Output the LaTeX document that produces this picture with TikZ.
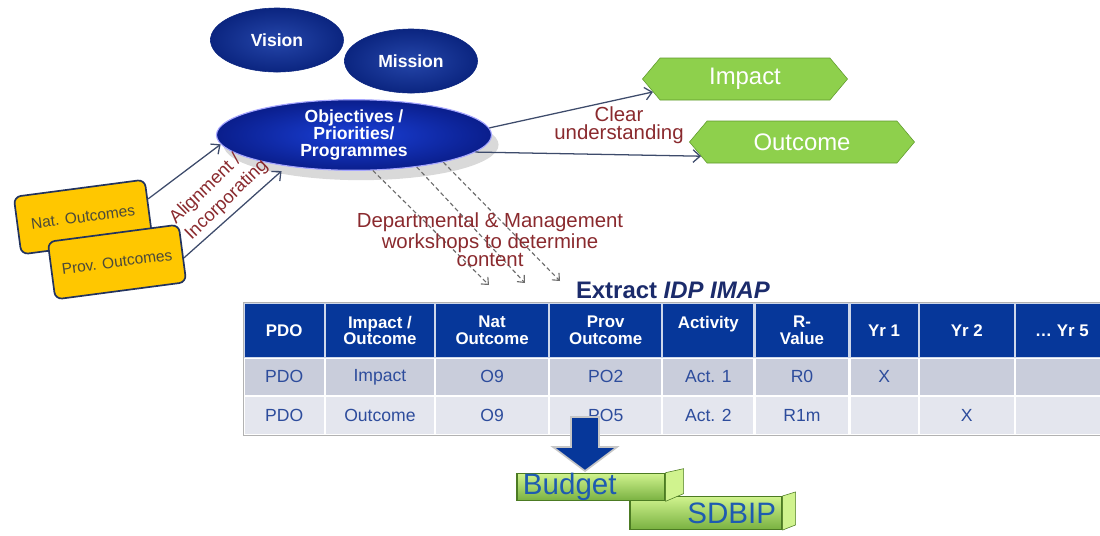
\documentclass[tikz,border=0pt]{standalone}
\usepackage{fontspec}
\setmainfont{Liberation Sans}
\usetikzlibrary{shapes.geometric,shapes.symbols,shadows,arrows.meta}
\definecolor{navy}{HTML}{0B2580}
\definecolor{navylt}{HTML}{2546AA}
\definecolor{objblue}{HTML}{1A40D8}
\definecolor{objdark}{HTML}{0A1E8C}
\definecolor{hdrblue}{HTML}{06379A}
\definecolor{rowa}{HTML}{C9CDDB}
\definecolor{rowb}{HTML}{E4E6EE}
\definecolor{celltxt}{HTML}{2D4C9C}
\definecolor{leaf}{HTML}{8ED04C}
\definecolor{leafdk}{HTML}{5F9A2C}
\definecolor{leafhi}{HTML}{D0F38E}
\definecolor{gold}{HTML}{FFC700}
\definecolor{boxline}{HTML}{22335E}
\definecolor{boxtxt}{HTML}{4B4A3A}
\definecolor{wine}{HTML}{8A2A2E}
\definecolor{slate}{HTML}{3D4B6B}
\definecolor{budgtxt}{HTML}{1E5BB0}
\definecolor{titleblue}{HTML}{1B2B6B}
\begin{document}
\begin{tikzpicture}[x=0.025cm, y=-0.025cm,
    oval/.style={ellipse, inner sep=0, minimum width=3.325cm, minimum height=1.6cm,
        inner color=navylt, outer color=navy, draw=navy, text=white,
        font=\fontsize{12.5}{13}\selectfont\bfseries},
    objoval/.style={ellipse, inner sep=0, minimum width=6.875cm, minimum height=1.6cm,
        inner color=objblue, outer color=objdark, draw=blue!35!white, line width=0.8pt,
        text=white, align=center, font=\fontsize{12.5}{11.9}\selectfont\bfseries},
    goal/.style={signal, signal to=west and east, signal pointer angle=100,
        draw=leafdk, fill=leaf, text=white, inner sep=0, minimum height=1.05cm,
        font=\fontsize{17}{17}\selectfont},
    outbox/.style={rectangle, rounded corners=5pt, draw=boxline, line width=1.2pt,
        fill=gold, text=boxtxt, minimum width=3.3cm, minimum height=1.45cm,
        rotate=7.5, font=\fontsize{11}{12}\selectfont},
    note/.style={text=wine, align=center, font=\fontsize{14.5}{13}\selectfont},
    link/.style={draw=slate, line width=0.9pt, -{Straight Barb[length=5pt,width=9pt]}},
    trace/.style={draw=gray!85!black, line width=0.8pt, dash pattern=on 3pt off 2pt,
        -{Straight Barb[length=4pt,width=7pt]}},
    hd/.style={fill=hdrblue, draw=white!80!hdrblue, line width=0.8pt, text=white,
        align=center, inner sep=0, outer sep=0, minimum height=1.35cm,
        font=\fontsize{12}{11.5}\selectfont\bfseries},
    ca/.style={fill=rowa, draw=white, line width=0.8pt, text=celltxt, inner sep=0,
        outer sep=0, minimum height=0.925cm, font=\fontsize{12.5}{13}\selectfont},
    cb/.style={ca, fill=rowb, minimum height=0.95cm},
    bar/.style={rectangle, draw=leafdk!80!black, line width=0.8pt, top color=leafhi,
        bottom color=leaf!85!black, text=budgtxt, inner ysep=0, inner xsep=0.15cm,
        font=\fontsize{21}{21}\selectfont}]
\useasboundingbox (0,0) rectangle (1100,535);

% top ovals
\node[oval] (vision) at (277,40) {Vision};
\node[oval] (mission) at (411,61) {Mission};
\node[objoval, drop shadow={opacity=0.3, shadow xshift=5pt, shadow yshift=-7pt}]
    (obj) at (354,135) {Objectives /\\Priorities/\\Programmes};

% results
\node[goal, minimum width=5.125cm] (imp) at (745,79) {Impact};
\node[goal, minimum width=5.625cm] (out) at (802,142) {Outcome};
\draw[link] (obj.3) -- (imp.188);
\draw[link] (obj.-8) -- (out.188);
\node[note] (clear) at (619,125) {Clear\\understanding};

% national and provincial outcomes
\node[outbox] (nat) at (83,217) {Nat. Outcomes};
\node[outbox] (prov) at (117,262) {Prov. Outcomes};
\draw[link] (nat.8) -- (obj.184);
\draw[link, shorten >=5pt] (prov.-4) -- (obj.205);
\node[note, rotate=44, align=left, font=\fontsize{13}{16}\selectfont]
    (align) at (219,192) {Alignment /\\Incorporating};

% workshops
\coordinate (d1) at (489,285);
\coordinate (d2) at (525,283);
\coordinate (d3) at (560,281);
\draw[trace] (obj.-62) -- (d1);
\draw[trace] (obj.-27) -- (d2);
\draw[trace] (obj.-17) -- (d3);
\node[note] (ws) at (490,240) {Departmental \& Management\\workshops to determine\\content};

% IMAP table
\node[text=titleblue, font=\fontsize{17}{17}\selectfont\bfseries] (ttl) at (673,290)
    {Extract \textit{IDP IMAP}};
\matrix (imap) [anchor=north west, inner sep=0, draw=gray!60, line width=1pt,
    column sep=0cm, row sep=0cm,
    column 1/.style={nodes={minimum width=2cm}},
    column 2/.style={nodes={minimum width=2.725cm}},
    column 3/.style={nodes={minimum width=2.825cm}},
    column 4/.style={nodes={minimum width=2.8cm}},
    column 5/.style={nodes={minimum width=2.275cm}},
    column 6/.style={nodes={minimum width=2.35cm}},
    column 7/.style={nodes={minimum width=1.7cm}},
    column 8/.style={nodes={minimum width=2.375cm}},
    column 9/.style={nodes={minimum width=2.325cm}}] at (243,302)
{
    \node[hd] {PDO}; & \node[hd] {Impact /\\Outcome}; & \node[hd] {Nat\\Outcome}; & \node[hd] {Prov\\Outcome}; & \node[hd] {Activity\\\mbox{}}; & \node[hd] {R-\\Value}; & \node[hd] {Yr 1}; & \node[hd] {Yr 2}; & \node[hd] {\dots{} Yr 5}; \\
    \node[ca] {PDO}; & \node[ca] {Impact}; & \node[ca] {O9}; & \node[ca] {PO2}; & \node[ca] {Act. 1}; & \node[ca] {R0}; & \node[ca] {X}; & \node[ca] {}; & \node[ca] {}; \\
    \node[cb] {PDO}; & \node[cb] {Outcome}; & \node[cb] {O9}; & \node[cb] {PO5}; & \node[cb] {Act. 2}; & \node[cb] {R1m}; & \node[cb] {}; & \node[cb] {X}; & \node[cb] {}; \\
};

% block arrow down to budget
\draw[fill=hdrblue, draw=gray!45, line width=1.2pt, line join=miter]
    (571,417) -- (599,417) -- (599,447) -- (617,447) -- (585,471) -- (553,447) -- (571,447) -- cycle;

% budget and sdbip bars
\node[bar, text width=3.5cm, align=right, minimum height=0.825cm] (sdbip) at (706,513) {SDBIP};
\fill[leafhi, draw=leafdk!80!black] (sdbip.north east) -- ++(13,-4) -- ++(0,33) -- (sdbip.south east) -- cycle;
\node[bar, text width=3.4cm, align=left, minimum height=0.625cm] (budget) at (591,487) {Budget};
\fill[leafhi, draw=leafdk!80!black] (budget.north east) -- ++(18,-4) -- ++(0,25) -- (budget.south east) -- cycle;
\end{tikzpicture}
\end{document}
